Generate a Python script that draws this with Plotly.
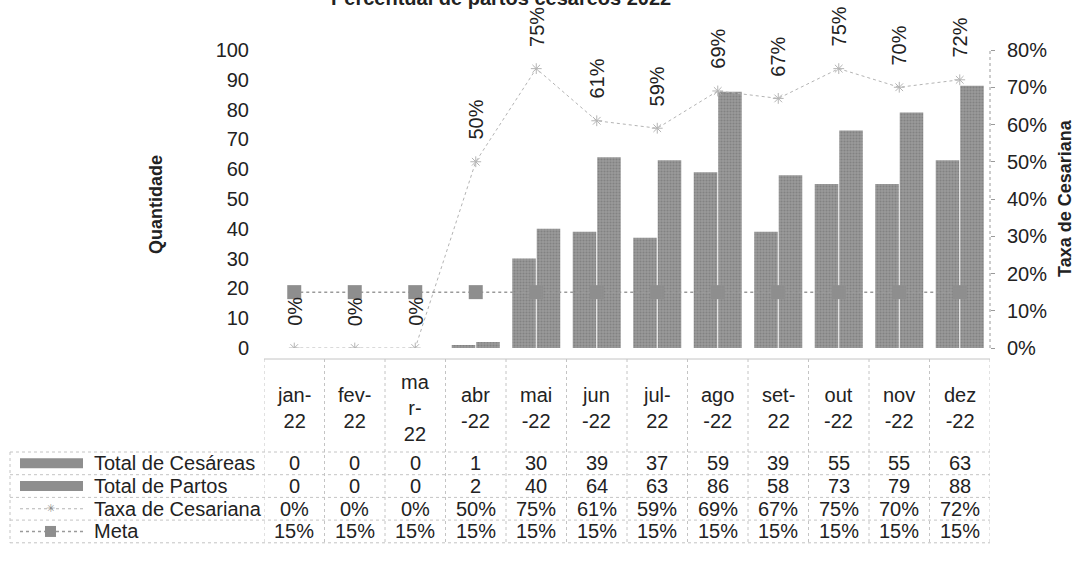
import plotly.graph_objects as go

# ---------------- data ----------------
months = ["jan-22", "fev-22", "mar-22", "abr-22", "mai-22", "jun-22",
          "jul-22", "ago-22", "set-22", "out-22", "nov-22", "dez-22"]
header_labels = ["jan-<br>22", "fev-<br>22", "ma<br>r-<br>22", "abr<br>-22", "mai<br>-22", "jun<br>-22",
                 "jul-<br>22", "ago<br>-22", "set-<br>22", "out<br>-22", "nov<br>-22", "dez<br>-22"]
total_cesareas = [0, 0, 0, 1, 30, 39, 37, 59, 39, 55, 55, 63]
total_partos = [0, 0, 0, 2, 40, 64, 63, 86, 58, 73, 79, 88]
taxa_cesariana = [0.00, 0.00, 0.00, 0.50, 0.75, 0.61, 0.59, 0.69, 0.67, 0.75, 0.70, 0.72]
meta = [0.15] * 12
left_ticks = [0, 10, 20, 30, 40, 50, 60, 70, 80, 90, 100]
right_ticks = [0, 0.1, 0.2, 0.3, 0.4, 0.5, 0.6, 0.7, 0.8]

# ---------------- layout geometry ----------------
W, H = 1079, 585
ML, MR, MT, MB = 264, 89, 50, 237
PW, PH = W - ML - MR, H - MT - MB


def px(xp):
    return (xp - ML) / PW


def py(yp):
    return (H - MB - yp) / PH


FONT = "Liberation Sans"
FS = 20
TXT = "#222222"
GRID = "#c4c4c4"
BAR_BG = "#9a9a9a"
BAR_FG = "#6a6a6a"

fig = go.Figure()

bar_pattern = dict(shape=".", bgcolor=BAR_BG, fgcolor=BAR_FG, size=3, solidity=0.4)

fig.add_trace(go.Bar(x=months, y=total_cesareas, name="Total de Cesáreas",
                     marker=dict(color=BAR_BG, pattern=bar_pattern, line=dict(width=0))))
fig.add_trace(go.Bar(x=months, y=total_partos, name="Total de Partos",
                     marker=dict(color=BAR_BG, pattern=bar_pattern, line=dict(width=0))))
fig.add_trace(go.Scatter(x=months, y=taxa_cesariana, name="Taxa de Cesariana", yaxis="y2",
                         mode="lines+markers",
                         line=dict(color="#b4b4b4", width=1, dash="dot"),
                         marker=dict(symbol="asterisk-open", size=9,
                                     line=dict(color="#8a8a8a", width=1))))
fig.add_trace(go.Scatter(x=months, y=meta, name="Meta", yaxis="y2",
                         mode="lines+markers",
                         line=dict(color="#9a9a9a", width=1.5, dash="dot"),
                         marker=dict(symbol="square", size=14, color="#8e8e8e")))

annotations = []
shapes = []

# rotated data labels for the rate
for m, v in zip(months, taxa_cesariana):
    annotations.append(dict(x=m, y=v, xref="x", yref="y2", text=f"{v:.0%}",
                            textangle=-90, showarrow=False, yanchor="bottom",
                            xanchor="center", yshift=20,
                            font=dict(family=FONT, size=FS, color=TXT)))

# title (cut off at the top in the reference)
annotations.append(dict(x=px(501), y=py(-2), xref="paper", yref="paper",
                        text="<b>Percentual de partos cesáreos 2022</b>", showarrow=False,
                        xanchor="center", yanchor="middle",
                        font=dict(family=FONT, size=20, color=TXT)))

# axis titles
annotations.append(dict(x=px(156), y=py(205), xref="paper", yref="paper",
                        text="<b>Quantidade</b>", textangle=-90, showarrow=False,
                        xanchor="center", yanchor="middle",
                        font=dict(family=FONT, size=18, color=TXT)))
annotations.append(dict(x=px(1065), y=py(198), xref="paper", yref="paper",
                        text="<b>Taxa de Cesariana</b>", textangle=-90, showarrow=False,
                        xanchor="center", yanchor="middle",
                        font=dict(family=FONT, size=18, color=TXT)))

# ---------------- data table ----------------
header_top, header_bot = 359, 452
row_h = 22.7
rows = [
    ("Total de Cesáreas", [str(v) for v in total_cesareas]),
    ("Total de Partos", [str(v) for v in total_partos]),
    ("Taxa de Cesariana", [f"{v:.0%}" for v in taxa_cesariana]),
    ("Meta", [f"{v:.0%}" for v in meta]),
]
table_bottom = header_bot + row_h * len(rows)

for m, lab in zip(months, header_labels):
    annotations.append(dict(x=m, y=py((header_top + header_bot) / 2 + 2), xref="x", yref="paper",
                            text=lab, showarrow=False, xanchor="center", yanchor="middle",
                            font=dict(family=FONT, size=FS, color=TXT)))

legend_left = 10
for r, (name, vals) in enumerate(rows):
    yc = header_bot + row_h * (r + 0.5)
    for m, t in zip(months, vals):
        annotations.append(dict(x=m, y=py(yc), xref="x", yref="paper", text=t,
                                showarrow=False, xanchor="center", yanchor="middle",
                                font=dict(family=FONT, size=FS, color=TXT)))
    annotations.append(dict(x=px(92), y=py(yc), xref="paper", yref="paper", text=name,
                            showarrow=False, xanchor="left", yanchor="middle",
                            font=dict(family=FONT, size=FS, color=TXT)))
    # legend keys
    if r < 2:
        shapes.append(dict(type="rect", xref="paper", yref="paper",
                           x0=px(20), x1=px(83), y0=py(yc - 5), y1=py(yc + 5),
                           fillcolor="#8e8e8e", line=dict(width=0)))
    elif r == 2:
        shapes.append(dict(type="line", xref="paper", yref="paper",
                           x0=px(20), x1=px(83), y0=py(yc), y1=py(yc),
                           line=dict(color="#b4b4b4", width=1, dash="dot")))
        annotations.append(dict(x=px(51), y=py(yc), xref="paper", yref="paper", text="✳",
                                showarrow=False, xanchor="center", yanchor="middle",
                                font=dict(family="DejaVu Sans", size=11, color="#8a8a8a")))
    else:
        shapes.append(dict(type="line", xref="paper", yref="paper",
                           x0=px(20), x1=px(83), y0=py(yc), y1=py(yc),
                           line=dict(color="#9a9a9a", width=1.5, dash="dot")))
        shapes.append(dict(type="rect", xref="paper", yref="paper",
                           x0=px(45), x1=px(56), y0=py(yc - 5.5), y1=py(yc + 5.5),
                           fillcolor="#8e8e8e", line=dict(width=0)))

# table grid lines
n = len(months)
for i in range(n + 1):
    shapes.append(dict(type="line", xref="x", yref="paper", x0=i - 0.5, x1=i - 0.5,
                       y0=py(header_top), y1=py(table_bottom),
                       line=dict(color=GRID, width=1, dash="dot")))
shapes.append(dict(type="line", xref="paper", yref="paper", x0=0, x1=1,
                   y0=py(header_top), y1=py(header_top), line=dict(color=GRID, width=1)))
for r in range(len(rows) + 1):
    yy = header_bot + row_h * r
    shapes.append(dict(type="line", xref="paper", yref="paper", x0=px(legend_left), x1=1,
                       y0=py(yy), y1=py(yy), line=dict(color=GRID, width=1, dash="dot")))
shapes.append(dict(type="line", xref="paper", yref="paper", x0=px(legend_left), x1=px(legend_left),
                   y0=py(header_bot), y1=py(table_bottom),
                   line=dict(color=GRID, width=1, dash="dot")))
# right axis dotted line
shapes.append(dict(type="line", xref="paper", yref="paper", x0=1, x1=1, y0=0, y1=1,
                   line=dict(color="#9a9a9a", width=1, dash="dot")))

fig.update_layout(
    width=W, height=H,
    margin=dict(l=ML, r=MR, t=MT, b=MB, autoexpand=False),
    paper_bgcolor="white", plot_bgcolor="white",
    showlegend=False,
    barmode="group", bargap=0.19, bargroupgap=0.04,
    font=dict(family=FONT, size=FS, color=TXT),
    xaxis=dict(type="category", range=[-0.5, n - 0.5], showticklabels=False,
               showgrid=False, zeroline=False, showline=False, ticks="", automargin=False),
    yaxis=dict(range=[0, 100], tickvals=left_ticks, showgrid=False, zeroline=False,
               showline=False, ticks="", ticklabelstandoff=14, automargin=False,
               tickfont=dict(family=FONT, size=FS, color=TXT)),
    yaxis2=dict(range=[0, 0.8], tickvals=right_ticks, tickformat=".0%", overlaying="y",
                side="right", showgrid=False, zeroline=False, showline=False,
                ticks="outside", ticklen=4, tickcolor="#9a9a9a", ticklabelstandoff=8,
                automargin=False, tickfont=dict(family=FONT, size=FS, color=TXT)),
    annotations=annotations,
    shapes=shapes,
)

fig.write_html("out.html", config={"displayModeBar": False},
               post_script="document.body.style.margin='0';")
